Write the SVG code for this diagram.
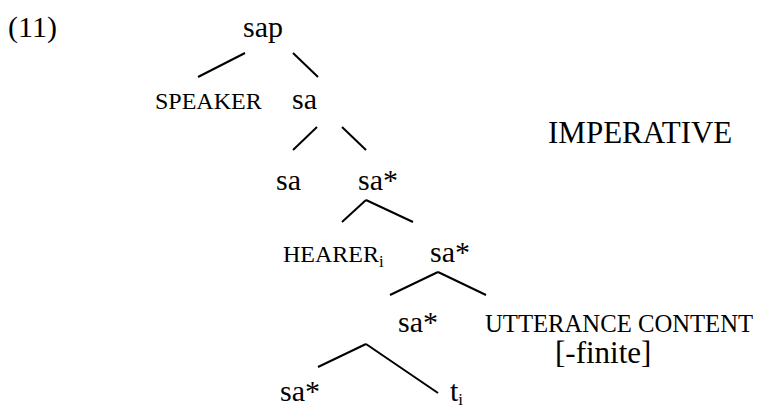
<svg xmlns="http://www.w3.org/2000/svg" width="758" height="408" viewBox="0 0 758 408">
  <style>
    text { font-family: "Liberation Serif", "Times New Roman", serif; fill: #000; }
    .big { font-size: 30px; }
    .sm { font-size: 24px; }
    .sub { font-size: 17px; }
    #edges line { stroke: #000; stroke-width: 2; stroke-linecap: butt; }
  </style>
  <rect width="758" height="408" fill="#fff"/>

  <!-- example number -->
  <text id="label" class="big" x="8" y="37">(11)</text>

  <!-- tree branches -->
  <g id="edges">
    <line x1="245" y1="53" x2="198" y2="77"/>
    <line x1="293" y1="53" x2="318" y2="77"/>
    <line x1="317" y1="127" x2="293" y2="150"/>
    <line x1="342" y1="127" x2="366" y2="150"/>
    <line x1="366" y1="200" x2="342" y2="222"/>
    <line x1="366" y1="200" x2="413" y2="222"/>
    <line x1="438" y1="272" x2="390" y2="295"/>
    <line x1="438" y1="272" x2="486" y2="295"/>
    <line x1="366" y1="344" x2="318" y2="367"/>
    <line x1="366" y1="344" x2="438" y2="393"/>
  </g>

  <g id="n-sap"><text class="big" x="243" y="37">sap</text></g>
  <g id="n-speaker"><text class="sm" x="155" y="109">SPEAKER</text></g>
  <g id="n-sa1"><text class="big" x="292" y="109">sa</text></g>
  <g id="n-imperative"><text class="big" x="548" y="143" style="font-size:31px">IMPERATIVE</text></g>
  <g id="n-sa2"><text class="big" x="276" y="190">sa</text></g>
  <g id="n-sastar1"><text class="big" x="358" y="190">sa*</text></g>
  <g id="n-hearer"><text class="sm" x="283" y="262">HEARER<tspan class="sub" dy="5">i</tspan></text></g>
  <g id="n-sastar2"><text class="big" x="430" y="262">sa*</text></g>
  <g id="n-sastar3"><text class="big" x="398" y="332">sa*</text></g>
  <g id="n-content">
    <text class="sm" x="485" y="332" style="font-size:24.7px">UTTERANCE CONTENT</text>
    <text class="big" x="555" y="363" style="font-size:31px">[-finite]</text>
  </g>
  <g id="n-sastar4"><text class="big" x="280" y="401">sa*</text></g>
  <g id="n-trace"><text class="big" x="450" y="401">t<tspan class="sub" dy="4">i</tspan></text></g>
</svg>
